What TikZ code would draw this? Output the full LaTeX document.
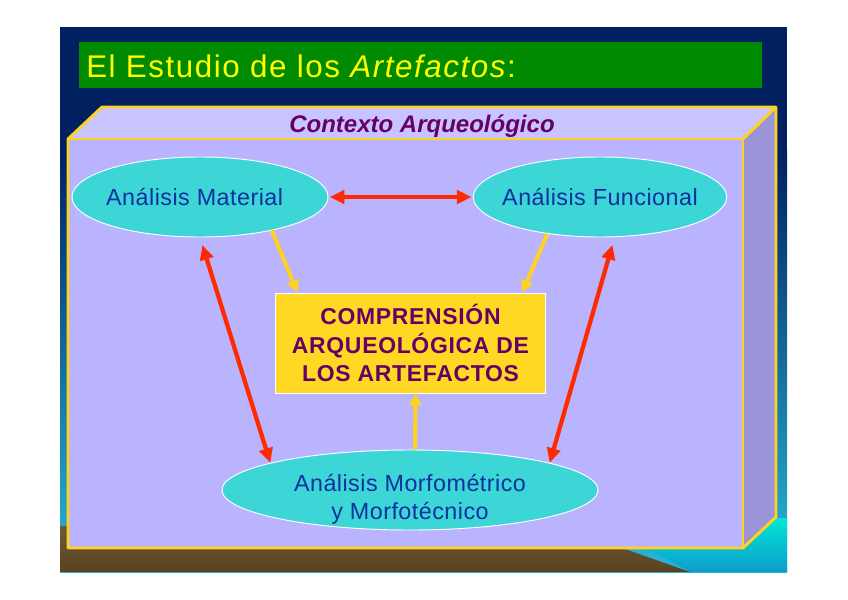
\documentclass[tikz,border=0pt]{standalone}
\usepackage{fontspec}
\setmainfont{Liberation Sans}
\newfontfamily\titlefont[LetterSpace=5]{Liberation Sans}
\newfontfamily\ellfam[LetterSpace=2]{Liberation Sans}
\newfontfamily\boxfam[LetterSpace=3]{Liberation Sans}
\usetikzlibrary{shapes.geometric,arrows.meta,calc}
\definecolor{navy}{HTML}{002060}
\definecolor{midblue}{HTML}{0848A8}
\definecolor{seacyan}{HTML}{28B8D8}
\definecolor{titlegreen}{HTML}{008A00}
\definecolor{titleyellow}{HTML}{FFFF00}
\definecolor{frontc}{HTML}{BAB4FF}
\definecolor{topc}{HTML}{C8C4FF}
\definecolor{sidec}{HTML}{9C94D8}
\definecolor{edgey}{HTML}{FFD21E}
\definecolor{ellc}{HTML}{3CD6D6}
\definecolor{elltext}{HTML}{1030A0}
\definecolor{boxy}{HTML}{FFD823}
\definecolor{purp}{HTML}{660066}
\definecolor{arrred}{HTML}{FF2A00}
\definecolor{arry}{HTML}{FFD21E}
\definecolor{browntop}{HTML}{6E5A35}
\definecolor{brownbot}{HTML}{5A4220}
\definecolor{aqua}{HTML}{00E6D6}
\definecolor{aquabot}{HTML}{0E9CCB}
\begin{document}
\begin{tikzpicture}[x=0.75pt,y=-0.75pt,
  ell/.style={ellipse, fill=ellc, draw=white, line width=0.7pt, text=elltext,
    font=\ellfam\fontsize{17.5}{21}\selectfont, inner xsep=-40pt, inner ysep=-12pt, align=center},
  compbox/.style={fill=boxy, draw=white, line width=0.7pt, text=purp, align=center,
    font=\boxfam\bfseries\fontsize{17.2}{21.4}\selectfont, inner sep=0pt},
  redarr/.style={draw=arrred, line width=3.2pt,
    {Triangle[length=11pt,width=10pt]}-{Triangle[length=11pt,width=10pt]}},
  yarr/.style={draw=arry, line width=3pt, -{Triangle[length=9pt,width=9pt]}},
  yedge/.style={draw=edgey, line width=2.2pt, line join=round}]
\useasboundingbox (0,0) rectangle (848,599);
\fill[white] (0,0) rectangle (848,599);
% slide background
\fill[navy] (60,27) rectangle (787,572);
\shade[top color=navy, middle color=midblue, bottom color=seacyan] (60,150) rectangle (787,572);
\shade[top color=aqua, bottom color=aquabot] (600,522) -- (787,518) -- (787,572) -- (690,572) -- cycle;
\shade[top color=browntop, bottom color=brownbot] (60,526) -- (560,526) -- (690,572) -- (60,572) -- cycle;
% title bar
\fill[titlegreen] (79,42) rectangle (762,88);
\node[anchor=base west, inner sep=0pt, text=titleyellow,
  font=\titlefont\fontsize{23.5}{26}\selectfont] (title) at (86,78)
  {El Estudio de los \textit{Artefactos}:};
% 3D context box
\fill[topc] (68,139) -- (102,107) -- (776,107) -- (743,139) -- cycle;
\fill[sidec] (743,139) -- (776,107) -- (776,517) -- (743,548) -- cycle;
\fill[frontc] (68,139) rectangle (743,548);
\draw[yedge] (68,139) -- (102,107) -- (776,107) -- (776,517) -- (743,548) -- (68,548) -- cycle;
\draw[yedge] (68,139) -- (743,139) -- (743,548);
\draw[yedge] (743,139) -- (776,107);
\node[text=purp, font=\bfseries\itshape\fontsize{18}{20}\selectfont] (ctx) at (422,126) {Contexto Arqueológico};
% nodes
\node[ell, minimum width=192pt, minimum height=60pt] (mat) at (200,197) {Análisis Material\hspace*{8pt}};
\node[ell, minimum width=190pt, minimum height=60pt] (fun) at (600,197) {Análisis Funcional};
\node[ell, minimum width=282pt, minimum height=60pt] (bot) at (410,490)
  {\rule{0pt}{27pt}Análisis Morfométrico\\y Morfotécnico};
\node[compbox, minimum width=203pt, minimum height=75pt] (box) at (410.5,343)
  {COMPRENSIÓN\\ARQUEOLÓGICA DE\\LOS ARTEFACTOS};
% connectors
\draw[redarr, shorten <=1pt, shorten >=1pt] (mat.east) -- (fun.west);
\draw[redarr, shorten <=6pt] (mat.south) -- (bot.169);
\draw[redarr, shorten <=6pt] (fun.-70) -- (bot.11);
\draw[yarr] (mat.-25) -- ([xshift=17pt]box.north west);
\draw[yarr] (fun.-145) -- ([xshift=-18pt]box.north east);
\draw[yarr] ([xshift=3.75pt]bot.north) -- ([xshift=3.75pt]box.south);
\end{tikzpicture}
\end{document}
